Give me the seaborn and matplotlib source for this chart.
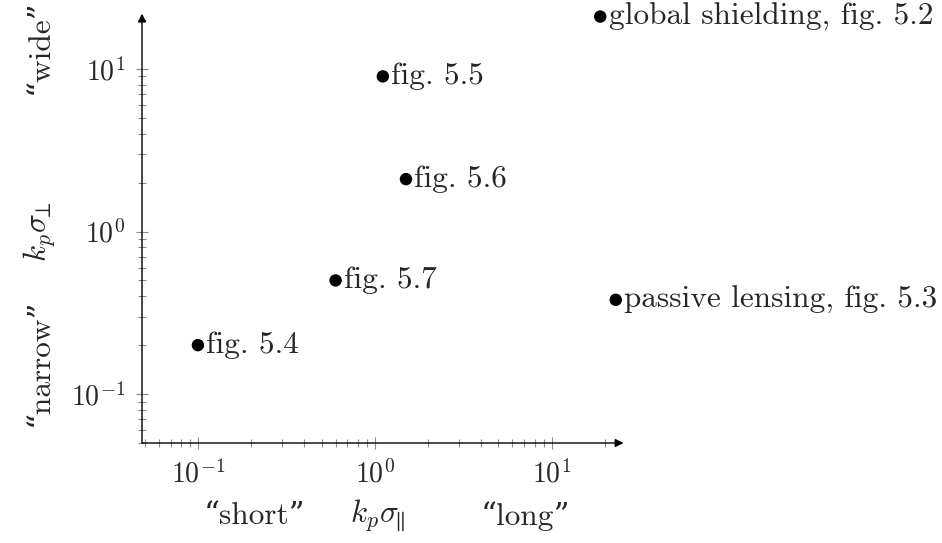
import numpy as np
import pandas as pd
import matplotlib
matplotlib.use("Agg")
import matplotlib.pyplot as plt
import seaborn as sns

# values
labels = ["fig. 5.4", "fig. 5.7", "fig. 5.5", "fig. 5.6",
          "passive lensing, fig. 5.3", "global shielding, fig. 5.2"]
k_par = [0.1, 0.6, 1.11, 1.5, 23.0, 18.8]
k_perp = [0.2, 0.5, 9.0, 2.1, 0.38, 21.0]

xticks = [0.1, 1, 10]
yticks = [0.1, 1, 10]
tick_labels = [r"$10^{-1}$", r"$10^{0}$", r"$10^{1}$"]

df = pd.DataFrame({"k_par": k_par, "k_perp": k_perp, "label": labels})

sns.set_style("white")
plt.rcParams["font.family"] = ["cmr10", "DejaVu Serif"]
plt.rcParams["mathtext.fontset"] = "cm"
plt.rcParams["axes.unicode_minus"] = False
FS = 22.5   # point labels and axis captions
TFS = 20    # tick labels

W, H = 942, 543
fig = plt.figure(figsize=(W / 100, H / 100), dpi=100)
# axes box in pixels: left 142, right 605, top 20, bottom 443
ax = fig.add_axes([142 / W, (H - 443) / H, (605 - 142) / W, (443 - 20) / H])

sns.scatterplot(data=df, x="k_par", y="k_perp", ax=ax, color="black",
                s=80, edgecolor="none", clip_on=False, zorder=5, legend=False)
ax.set_xscale("log")
ax.set_yscale("log")
ax.set_xlim(0.0483, 20)
ax.set_ylim(0.05, 20)

for _, row in df.iterrows():
    ax.annotate(row["label"], (row["k_par"], row["k_perp"]), xytext=(6, 0),
                textcoords="offset points", ha="left", va="center",
                fontsize=FS, annotation_clip=False)

for s in ax.spines.values():
    s.set_visible(False)
# axis lines with arrow heads
arrow = dict(arrowstyle="-|>", color="black", lw=1.0, mutation_scale=12,
             shrinkA=0, shrinkB=0)
ax.annotate("", xy=(1.04, 0), xytext=(0, 0), xycoords="axes fraction",
            arrowprops=arrow, annotation_clip=False)
ax.annotate("", xy=(0, 1.015), xytext=(0, 0), xycoords="axes fraction",
            arrowprops=arrow, annotation_clip=False)

ax.set_xticks(xticks)
ax.set_xticklabels(tick_labels)
ax.set_yticks(yticks)
ax.set_yticklabels(tick_labels)
ax.tick_params(which="major", direction="inout", length=8, width=0.8,
               color="0.55", labelsize=TFS, pad=8)
ax.tick_params(which="minor", direction="inout", length=5.5, width=0.8,
               color="0.55")
ax.tick_params(axis="x", which="both", bottom=True)
ax.tick_params(axis="y", which="both", left=True)
ax.set_xlabel("")
ax.set_ylabel("")
ax.grid(False)

# axis captions
fig.text(255 / W, 1 - 516 / H, "\u201cshort\u201d", fontsize=FS, ha="center", va="center")
fig.text(378 / W, 1 - 516 / H, r"$k_p\sigma_{\!\!\parallel}$", fontsize=FS, ha="center", va="center")
fig.text(526 / W, 1 - 516 / H, "\u201clong\u201d", fontsize=FS, ha="center", va="center")
fig.text(40 / W, 1 - 362 / H, "\u201cnarrow\u201d", fontsize=FS, ha="center", va="center", rotation=90)
fig.text(40 / W, 1 - 232 / H, r"$k_p\sigma_{\!\!\perp}$", fontsize=FS, ha="center", va="center", rotation=90)
fig.text(40 / W, 1 - 47 / H, "\u201cwide\u201d", fontsize=FS, ha="center", va="center", rotation=90)

fig.savefig("out.png", dpi=100)
